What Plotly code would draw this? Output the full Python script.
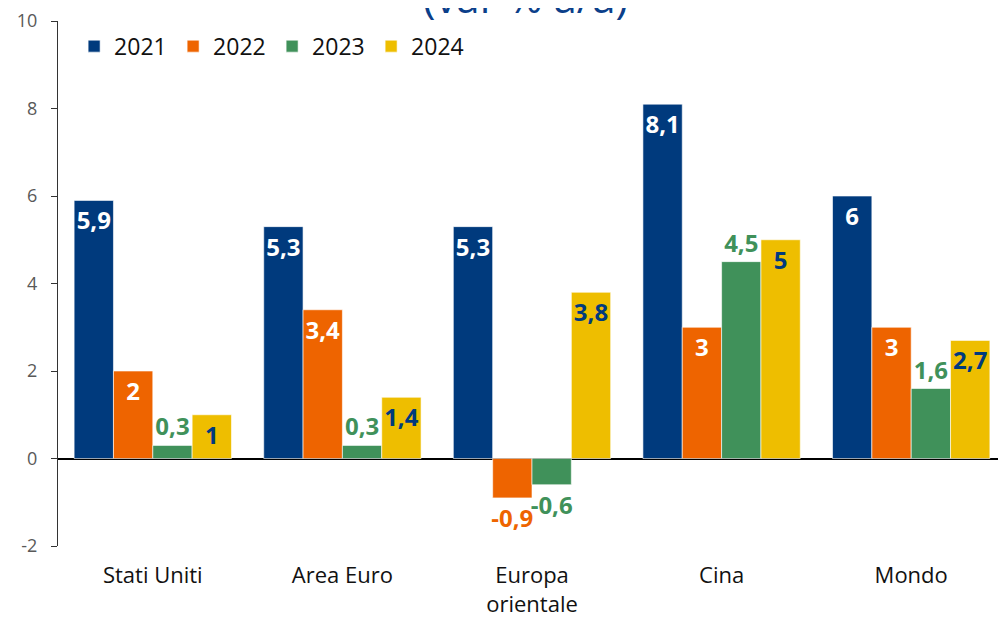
import plotly.graph_objects as go

# data
categories = ["Stati Uniti", "Area Euro", "Europa<br>orientale", "Cina", "Mondo"]
years = ["2021", "2022", "2023", "2024"]
v2021 = [5.9, 5.3, 5.3, 8.1, 6.0]
v2022 = [2.0, 3.4, -0.9, 3.0, 3.0]
v2023 = [0.3, 0.3, -0.6, 4.5, 1.6]
v2024 = [1.0, 1.4, 3.8, 5.0, 2.7]
y_ticks = [-2, 0, 2, 4, 6, 8, 10]

blue = "#003A7D"
orange = "#EE6400"
green = "#40915A"
yellow = "#EEBE00"
font = "Open Sans"


def fmt(v):
    s = f"{v:g}"
    return s.replace(".", ",")


def bar(name, values, color, label_color, inside):
    pos = []
    cols = []
    for v in values:
        if inside and v >= 0:
            pos.append("inside")
            cols.append(label_color)
        else:
            pos.append("outside")
            cols.append(color if not inside or v < 0 else label_color)
    return go.Bar(
        x=categories,
        y=values,
        name=name,
        marker=dict(color=color, line=dict(color="rgba(255,255,255,0.6)", width=1)),
        text=[fmt(v) for v in values],
        textposition=pos,
        insidetextanchor="end",
        textangle=0,
        constraintext="none",
        cliponaxis=False,
        textfont=dict(color=cols, size=24, family=font, weight="bold"),
    )


fig = go.Figure()
fig.add_trace(bar("2021", v2021, blue, "white", True))
fig.add_trace(bar("2022", v2022, orange, "white", True))
fig.add_trace(bar("2023", v2023, green, green, False))
fig.add_trace(bar("2024", v2024, yellow, blue, True))

# page body has an 8px margin, so the figure is sized to fit the window
fig.update_layout(
    width=998,
    height=610,
    margin=dict(l=50, r=0, t=9, b=70),
    plot_bgcolor="white",
    paper_bgcolor="white",
    barmode="group",
    bargap=0.17,
    bargroupgap=0,
    font=dict(family=font, color="#222222"),
    legend=dict(
        orientation="h",
        x=0.017,
        y=0.993,
        xanchor="left",
        yanchor="top",
        font=dict(size=23, color="#111111"),
        traceorder="normal",
        entrywidth=54,
        itemwidth=30,
        bgcolor="rgba(0,0,0,0)",
    ),
    showlegend=True,
)

fig.update_yaxes(
    range=[-2, 10],
    tickvals=y_ticks,
    ticktext=[str(t) for t in y_ticks],
    showgrid=False,
    showline=True,
    linecolor="#333333",
    linewidth=1,
    ticks="outside",
    ticklen=6,
    tickcolor="#333333",
    ticklabelstandoff=10,
    ticklabeloverflow="allow",
    tickfont=dict(size=18, color="#595959"),
    zeroline=True,
    zerolinecolor="black",
    zerolinewidth=1.5,
)
fig.update_xaxes(
    showgrid=False,
    showline=False,
    ticks="",
    ticklabelstandoff=14,
    tickfont=dict(size=22, color="#111111"),
)

fig.add_annotation(
    text="(var % a/a)",
    xref="paper",
    yref="paper",
    x=0.493,
    y=1,
    yshift=-6,
    yanchor="bottom",
    showarrow=False,
    font=dict(size=42, color="#0B3F8A"),
)

fig.write_html("out.html")
